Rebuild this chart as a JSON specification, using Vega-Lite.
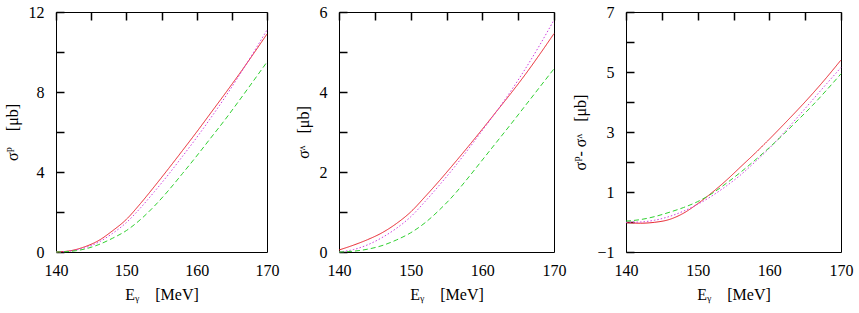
{
  "$schema": "https://vega.github.io/schema/vega-lite/v6.json",
  "background": "white",
  "padding": {"left": 3, "top": 3, "right": 2, "bottom": 2},
  "bounds": "flush",
  "spacing": 72,
  "config": {
    "view": {"stroke": "black", "strokeWidth": 1},
    "axis": {
      "domain": false,
      "ticks": false,
      "grid": true,
      "gridColor": "#000000",
      "gridWidth": 1.5,
      "gridOpacity": 1,
      "gridDash": [8, 2000],
      "zindex": 1,
      "labelFlush": false,
      "labelOverlap": false,
      "labelFont": "Liberation Serif",
      "labelFontSize": 16,
      "labelColor": "black",
      "titleFont": "Liberation Serif",
      "titleFontSize": 16,
      "titleFontWeight": "normal",
      "titleColor": "black"
    },
    "axisX": {"labelPadding": 10, "titlePadding": 8},
    "axisY": {"labelPadding": 12, "titlePadding": 8}
  },
  "datasets": {
    "P": [
      {"E": 140, "m": "a", "v": 0}, {"E": 142, "m": "a", "v": 0.06}, {"E": 144, "m": "a", "v": 0.25}, {"E": 146, "m": "a", "v": 0.56},
      {"E": 148, "m": "a", "v": 1.05}, {"E": 150, "m": "a", "v": 1.63}, {"E": 152, "m": "a", "v": 2.42}, {"E": 154, "m": "a", "v": 3.28},
      {"E": 156, "m": "a", "v": 4.17}, {"E": 158, "m": "a", "v": 5.08}, {"E": 160, "m": "a", "v": 6.0}, {"E": 162, "m": "a", "v": 6.95},
      {"E": 164, "m": "a", "v": 7.9}, {"E": 166, "m": "a", "v": 8.87}, {"E": 168, "m": "a", "v": 9.87}, {"E": 170, "m": "a", "v": 10.9},
      {"E": 140, "m": "b", "v": 0}, {"E": 142, "m": "b", "v": 0.05}, {"E": 144, "m": "b", "v": 0.2}, {"E": 146, "m": "b", "v": 0.48},
      {"E": 148, "m": "b", "v": 0.92}, {"E": 150, "m": "b", "v": 1.47}, {"E": 152, "m": "b", "v": 2.2}, {"E": 154, "m": "b", "v": 3.02},
      {"E": 156, "m": "b", "v": 3.88}, {"E": 158, "m": "b", "v": 4.79}, {"E": 160, "m": "b", "v": 5.72}, {"E": 162, "m": "b", "v": 6.7},
      {"E": 164, "m": "b", "v": 7.72}, {"E": 166, "m": "b", "v": 8.8}, {"E": 168, "m": "b", "v": 9.93}, {"E": 170, "m": "b", "v": 11.1},
      {"E": 140, "m": "c", "v": 0}, {"E": 142, "m": "c", "v": 0.03}, {"E": 144, "m": "c", "v": 0.14}, {"E": 146, "m": "c", "v": 0.36},
      {"E": 148, "m": "c", "v": 0.68}, {"E": 150, "m": "c", "v": 1.07}, {"E": 152, "m": "c", "v": 1.62}, {"E": 154, "m": "c", "v": 2.3},
      {"E": 156, "m": "c", "v": 3.08}, {"E": 158, "m": "c", "v": 3.93}, {"E": 160, "m": "c", "v": 4.8}, {"E": 162, "m": "c", "v": 5.7},
      {"E": 164, "m": "c", "v": 6.6}, {"E": 166, "m": "c", "v": 7.55}, {"E": 168, "m": "c", "v": 8.52}, {"E": 170, "m": "c", "v": 9.5}
    ],
    "L": [
      {"E": 140, "m": "a", "v": 0.05}, {"E": 142, "m": "a", "v": 0.17}, {"E": 144, "m": "a", "v": 0.31}, {"E": 146, "m": "a", "v": 0.48},
      {"E": 148, "m": "a", "v": 0.71}, {"E": 150, "m": "a", "v": 1.0}, {"E": 152, "m": "a", "v": 1.38}, {"E": 154, "m": "a", "v": 1.78},
      {"E": 156, "m": "a", "v": 2.2}, {"E": 158, "m": "a", "v": 2.63}, {"E": 160, "m": "a", "v": 3.07}, {"E": 162, "m": "a", "v": 3.52},
      {"E": 164, "m": "a", "v": 3.97}, {"E": 166, "m": "a", "v": 4.44}, {"E": 168, "m": "a", "v": 4.94}, {"E": 170, "m": "a", "v": 5.46},
      {"E": 140, "m": "b", "v": 0.0}, {"E": 142, "m": "b", "v": 0.06}, {"E": 144, "m": "b", "v": 0.18}, {"E": 146, "m": "b", "v": 0.36},
      {"E": 148, "m": "b", "v": 0.59}, {"E": 150, "m": "b", "v": 0.88}, {"E": 152, "m": "b", "v": 1.26}, {"E": 154, "m": "b", "v": 1.67},
      {"E": 156, "m": "b", "v": 2.1}, {"E": 158, "m": "b", "v": 2.56}, {"E": 160, "m": "b", "v": 3.04}, {"E": 162, "m": "b", "v": 3.52},
      {"E": 164, "m": "b", "v": 4.03}, {"E": 166, "m": "b", "v": 4.58}, {"E": 168, "m": "b", "v": 5.17}, {"E": 170, "m": "b", "v": 5.8},
      {"E": 140, "m": "c", "v": 0.0}, {"E": 142, "m": "c", "v": 0.02}, {"E": 144, "m": "c", "v": 0.07}, {"E": 146, "m": "c", "v": 0.16},
      {"E": 148, "m": "c", "v": 0.3}, {"E": 150, "m": "c", "v": 0.48}, {"E": 152, "m": "c", "v": 0.73}, {"E": 154, "m": "c", "v": 1.05},
      {"E": 156, "m": "c", "v": 1.42}, {"E": 158, "m": "c", "v": 1.85}, {"E": 160, "m": "c", "v": 2.3}, {"E": 162, "m": "c", "v": 2.75},
      {"E": 164, "m": "c", "v": 3.2}, {"E": 166, "m": "c", "v": 3.66}, {"E": 168, "m": "c", "v": 4.12}, {"E": 170, "m": "c", "v": 4.58}
    ],
    "D": [
      {"E": 140, "m": "a", "v": -0.02}, {"E": 142, "m": "a", "v": -0.04}, {"E": 144, "m": "a", "v": -0.01}, {"E": 146, "m": "a", "v": 0.08},
      {"E": 148, "m": "a", "v": 0.29}, {"E": 150, "m": "a", "v": 0.61}, {"E": 152, "m": "a", "v": 0.98}, {"E": 154, "m": "a", "v": 1.39},
      {"E": 156, "m": "a", "v": 1.84}, {"E": 158, "m": "a", "v": 2.29}, {"E": 160, "m": "a", "v": 2.76}, {"E": 162, "m": "a", "v": 3.25},
      {"E": 164, "m": "a", "v": 3.75}, {"E": 166, "m": "a", "v": 4.27}, {"E": 168, "m": "a", "v": 4.82}, {"E": 170, "m": "a", "v": 5.4},
      {"E": 140, "m": "b", "v": -0.01}, {"E": 142, "m": "b", "v": 0.0}, {"E": 144, "m": "b", "v": 0.06}, {"E": 146, "m": "b", "v": 0.18},
      {"E": 148, "m": "b", "v": 0.36}, {"E": 150, "m": "b", "v": 0.59}, {"E": 152, "m": "b", "v": 0.87}, {"E": 154, "m": "b", "v": 1.2},
      {"E": 156, "m": "b", "v": 1.57}, {"E": 158, "m": "b", "v": 2.0}, {"E": 160, "m": "b", "v": 2.46}, {"E": 162, "m": "b", "v": 2.97},
      {"E": 164, "m": "b", "v": 3.51}, {"E": 166, "m": "b", "v": 4.06}, {"E": 168, "m": "b", "v": 4.61}, {"E": 170, "m": "b", "v": 5.15},
      {"E": 140, "m": "c", "v": 0.03}, {"E": 142, "m": "c", "v": 0.08}, {"E": 144, "m": "c", "v": 0.18}, {"E": 146, "m": "c", "v": 0.32},
      {"E": 148, "m": "c", "v": 0.48}, {"E": 150, "m": "c", "v": 0.68}, {"E": 152, "m": "c", "v": 0.95}, {"E": 154, "m": "c", "v": 1.29},
      {"E": 156, "m": "c", "v": 1.66}, {"E": 158, "m": "c", "v": 2.06}, {"E": 160, "m": "c", "v": 2.48}, {"E": 162, "m": "c", "v": 2.93},
      {"E": 164, "m": "c", "v": 3.4}, {"E": 166, "m": "c", "v": 3.88}, {"E": 168, "m": "c", "v": 4.4}, {"E": 170, "m": "c", "v": 4.94}
    ]
  },
  "hconcat": [
    {
      "width": 211, "height": 240,
      "data": {"name": "P"},
      "layer": [
        {
          "mark": {"type": "line", "strokeWidth": 1, "interpolate": "monotone"},
          "encoding": {
            "x": {"field": "E", "type": "quantitative", "scale": {"domain": [140, 170], "nice": false},
                  "axis": {"orient": "bottom", "values": [140, 145, 150, 155, 160, 165, 170], "labelExpr": "datum.value % 10 == 0 ? datum.label : ''", "title": "Eᵧ\u00a0\u00a0\u00a0\u00a0[MeV]"}},
            "y": {"field": "v", "type": "quantitative", "scale": {"domain": [0, 12], "nice": false},
                  "axis": {"orient": "left", "values": [0, 2, 4, 6, 8, 10, 12], "labelExpr": "datum.value % 4 == 0 ? datum.label : ''", "title": "σᴾ\u00a0\u00a0\u00a0\u00a0[μb]"}},
            "color": {"field": "m", "type": "nominal", "scale": {"domain": ["a", "b", "c"], "range": ["#e8202a", "#d040e0", "#30d030"]}, "legend": null},
            "strokeDash": {"field": "m", "type": "nominal", "scale": {"domain": ["a", "b", "c"], "range": [[1, 0], [1.5, 2], [5, 3]]}, "legend": null}
          }
        },
        {
          "mark": {"type": "line", "opacity": 0},
          "encoding": {
            "x": {"field": "E", "type": "quantitative", "axis": {"orient": "top", "values": [140, 145, 150, 155, 160, 165, 170], "labels": false, "title": null}},
            "y": {"field": "v", "type": "quantitative", "axis": {"orient": "right", "values": [0, 2, 4, 6, 8, 10, 12], "labels": false, "title": null}},
            "detail": {"field": "m"}
          }
        }
      ],
      "resolve": {"axis": {"x": "independent", "y": "independent"}}
    },
    {
      "width": 215, "height": 240,
      "data": {"name": "L"},
      "layer": [
        {
          "mark": {"type": "line", "strokeWidth": 1, "interpolate": "monotone"},
          "encoding": {
            "x": {"field": "E", "type": "quantitative", "scale": {"domain": [140, 170], "nice": false},
                  "axis": {"orient": "bottom", "values": [140, 145, 150, 155, 160, 165, 170], "labelExpr": "datum.value % 10 == 0 ? datum.label : ''", "title": "Eᵧ\u00a0\u00a0\u00a0\u00a0[MeV]"}},
            "y": {"field": "v", "type": "quantitative", "scale": {"domain": [0, 6], "nice": false},
                  "axis": {"orient": "left", "values": [0, 1, 2, 3, 4, 5, 6], "labelExpr": "datum.value % 2 == 0 ? datum.label : ''", "title": "σᶺ\u00a0\u00a0\u00a0[μb]"}},
            "color": {"field": "m", "type": "nominal", "scale": {"domain": ["a", "b", "c"], "range": ["#e8202a", "#d040e0", "#30d030"]}, "legend": null},
            "strokeDash": {"field": "m", "type": "nominal", "scale": {"domain": ["a", "b", "c"], "range": [[1, 0], [1.5, 2], [5, 3]]}, "legend": null}
          }
        },
        {
          "mark": {"type": "line", "opacity": 0},
          "encoding": {
            "x": {"field": "E", "type": "quantitative", "axis": {"orient": "top", "values": [140, 145, 150, 155, 160, 165, 170], "labels": false, "title": null}},
            "y": {"field": "v", "type": "quantitative", "axis": {"orient": "right", "values": [0, 1, 2, 3, 4, 5, 6], "labels": false, "title": null}},
            "detail": {"field": "m"}
          }
        }
      ],
      "resolve": {"axis": {"x": "independent", "y": "independent"}}
    },
    {
      "width": 215, "height": 240,
      "data": {"name": "D"},
      "layer": [
        {
          "mark": {"type": "line", "strokeWidth": 1, "interpolate": "monotone"},
          "encoding": {
            "x": {"field": "E", "type": "quantitative", "scale": {"domain": [140, 170], "nice": false},
                  "axis": {"orient": "bottom", "values": [140, 145, 150, 155, 160, 165, 170], "labelExpr": "datum.value % 10 == 0 ? datum.label : ''", "title": "Eᵧ\u00a0\u00a0\u00a0\u00a0[MeV]"}},
            "y": {"field": "v", "type": "quantitative", "scale": {"domain": [-1, 7], "nice": false},
                  "axis": {"orient": "left", "values": [-1, 0, 1, 2, 3, 4, 5, 6, 7], "labelExpr": "(datum.value + 1) % 2 == 0 ? datum.label : ''", "title": "σᴾ- σᶺ\u00a0\u00a0\u00a0[μb]"}},
            "color": {"field": "m", "type": "nominal", "scale": {"domain": ["a", "b", "c"], "range": ["#e8202a", "#d040e0", "#30d030"]}, "legend": null},
            "strokeDash": {"field": "m", "type": "nominal", "scale": {"domain": ["a", "b", "c"], "range": [[1, 0], [1.5, 2], [5, 3]]}, "legend": null}
          }
        },
        {
          "mark": {"type": "line", "opacity": 0},
          "encoding": {
            "x": {"field": "E", "type": "quantitative", "axis": {"orient": "top", "values": [140, 145, 150, 155, 160, 165, 170], "labels": false, "title": null}},
            "y": {"field": "v", "type": "quantitative", "axis": {"orient": "right", "values": [-1, 0, 1, 2, 3, 4, 5, 6, 7], "labels": false, "title": null}},
            "detail": {"field": "m"}
          }
        }
      ],
      "resolve": {"axis": {"x": "independent", "y": "independent"}}
    }
  ]
}
